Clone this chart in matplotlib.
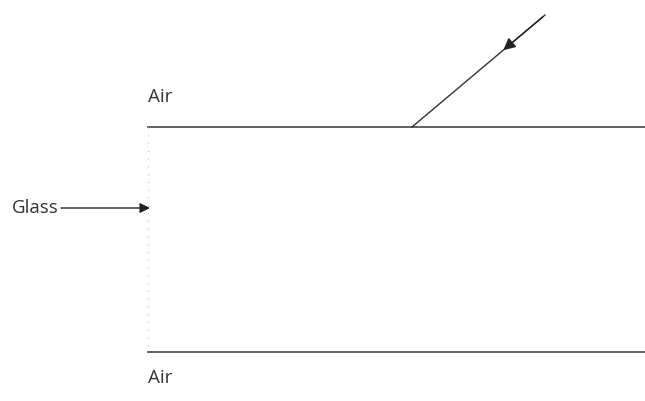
import matplotlib
matplotlib.use("Agg")
import matplotlib.pyplot as plt

# Diagram geometry in pixel units (origin top-left)
top_surface_x = [148, 645]
top_surface_y = [127, 127]
bottom_surface_x = [148, 645]
bottom_surface_y = [352, 352]
left_edge_x = [148, 148]
left_edge_y = [127, 352]
ray_start = (545, 15)
ray_end = (412, 127)
labels = ["Air", "Glass", "Air"]
label_x = [148, 12, 148]
label_y = [97, 208, 378]

fig = plt.figure(figsize=(6.45, 4.01), dpi=100)
ax = fig.add_axes([0, 0, 1, 1])
ax.set_xlim(0, 645)
ax.set_ylim(401, 0)
ax.axis("off")

# Glass block surfaces
ax.plot(top_surface_x, top_surface_y, color="#555555", linewidth=1.3)
ax.plot(bottom_surface_x, bottom_surface_y, color="#555555", linewidth=1.3)
ax.plot(left_edge_x, left_edge_y, color="#bbbbbb", linewidth=0.8, linestyle=(0, (1, 6)))

# Incident ray with arrowhead part way along
ax.plot([ray_start[0], ray_end[0]], [ray_start[1], ray_end[1]], color="#333333", linewidth=1.0)
fx = ray_start[0] + 0.33 * (ray_end[0] - ray_start[0])
fy = ray_start[1] + 0.33 * (ray_end[1] - ray_start[1])
ax.annotate("", xy=(fx, fy), xytext=(ray_start[0], ray_start[1]),
            arrowprops=dict(arrowstyle="-|>", color="#222222", lw=1.0, mutation_scale=18))

# Labels
for t, x, y in zip(labels, label_x, label_y):
    ax.text(x, y, t, fontsize=13.5, family="Open Sans", color="#333333",
            ha="left", va="center")

# Pointer from "Glass" label to the block
ax.annotate("", xy=(150, 208), xytext=(61, 208),
            arrowprops=dict(arrowstyle="-|>", color="#222222", lw=1.0, mutation_scale=15,
                            shrinkA=0, shrinkB=0))

fig.savefig("out.png", dpi=100, facecolor="white")
